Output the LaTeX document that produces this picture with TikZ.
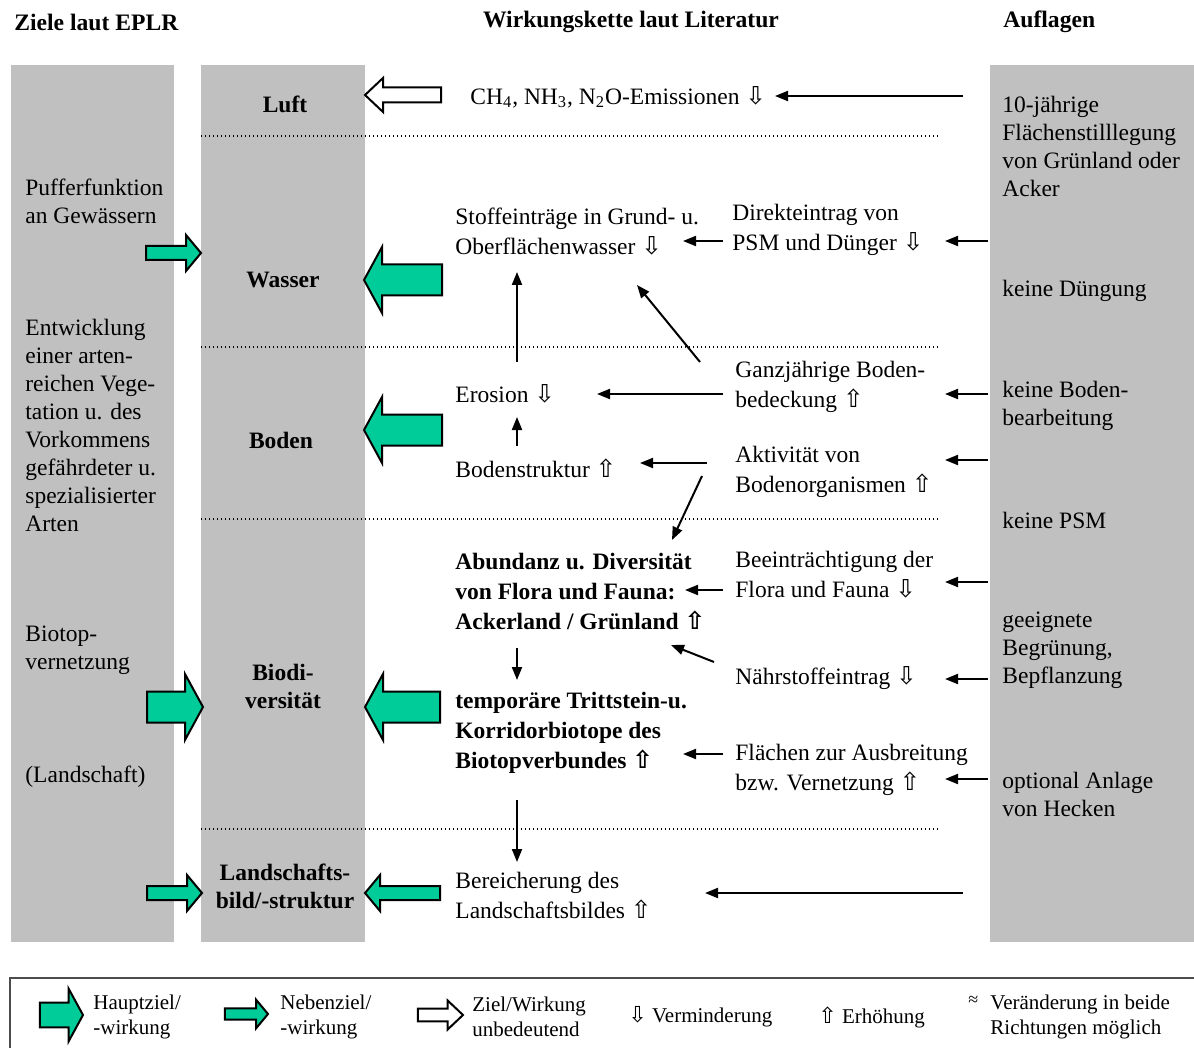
\documentclass[tikz,border=0pt]{standalone}
\usepackage{fontspec}
\setmainfont{Liberation Serif}
\newfontfamily\symfont[Scale=1.05]{DejaVu Sans}
\usetikzlibrary{arrows.meta,calc}
\definecolor{Grau}{HTML}{C0C0C0}
\definecolor{Gruen}{HTML}{00CC99}
\newcommand{\ab}{{\symfont ⇩}}
\newcommand{\auf}{{\symfont ⇧}}
\tikzset{
  >={Triangle[length=6.5pt,width=5pt]},
  saeule/.style={fill=Grau,draw=none,inner sep=0pt,outer sep=0pt,anchor=north west,minimum height=438.5pt},
  kopf/.style={font=\bfseries\fontsize{11.8}{14}\selectfont,inner sep=0pt},
  ziel/.style={anchor=west,inner sep=0pt,align=left,font=\fontsize{11.75}{14}\selectfont},
  feld/.style={inner sep=0pt,align=center,font=\bfseries\fontsize{11.75}{14}\selectfont},
  kette/.style={anchor=west,inner sep=0pt,align=left,font=\fontsize{11.75}{15}\selectfont},
  kettefett/.style={kette,font=\bfseries\fontsize{11.75}{15}\selectfont},
  legende/.style={anchor=west,inner sep=0pt,align=left,font=\fontsize{10.5}{12.5}\selectfont},
  wirkung/.style={->,line width=1pt},
  trennlinie/.style={line width=0.7pt,dash pattern=on 0.7pt off 1.3pt},
  gruenpfeil/.style={fill=Gruen,draw=black,line width=1pt,line join=miter},
  leerpfeil/.style={gruenpfeil,fill=white},
  pics/hauptpfeil/.style={code={\draw[gruenpfeil] (0,0) -- (-18,-33) -- (-18,-15.5) -- (-#1,-15.5) -- (-#1,15.5) -- (-18,15.5) -- (-18,33) -- cycle;}},
  pics/nebenpfeil/.style={code={\draw[gruenpfeil] (0,0) -- (-15,-18) -- (-15,-7) -- (-#1,-7) -- (-#1,7) -- (-15,7) -- (-15,18) -- cycle;}},
  pics/weisspfeil/.style={code={\draw[leerpfeil] (0,0) -- (-18,-17) -- (-18,-7.5) -- (-#1,-7.5) -- (-#1,7.5) -- (-18,7.5) -- (-18,17) -- cycle;}}
}
\begin{document}
\begin{tikzpicture}[x=0.5pt,y=-0.5pt]
  \useasboundingbox (0,0) rectangle (1194,1048);
  % Kopfzeile
  \node[kopf,anchor=west] (kZiele) at (14,22) {Ziele laut EPLR};
  \node[kopf] (kKette) at (631,22) {Wirkungskette laut Literatur};
  \node[kopf,anchor=west] (kAuflagen) at (1003,22) {Auflagen};
  % Saeulen
  \node[saeule,minimum width=81.5pt] (ziele) at (11,65) {};
  \node[saeule,minimum width=82pt] (schutzgut) at (201,65) {};
  \node[saeule,minimum width=102pt] (auflagen) at (990,65) {};
  \foreach \y in {136,347,519,829}
    \draw[trennlinie] (201,\y) -- (940,\y);
  % Ziele laut EPLR
  \node[ziel] (puffer) at (25,201) {Pufferfunktion\\an Gewässern};
  \node[ziel] (entw) at (25,425) {Entwicklung\\einer arten-\\reichen Vege-\\tation u. des\\Vorkommens\\gefährdeter u.\\spezialisierter\\Arten};
  \node[ziel] (biotop) at (25,650) {Biotop-\\vernetzung};
  \node[ziel] (landsch) at (25,777) {(Landschaft)};
  % Schutzgueter
  \node[feld] (luft) at (285,104) {Luft};
  \node[feld] (wasser) at (283,280) {Wasser};
  \node[feld] (boden) at (281,440) {Boden};
  \node[feld] (biodiv) at (283,686) {Biodi-\\versität};
  \node[feld] (lbild) at (285,886) {Landschafts-\\bild/-struktur};
  % Auflagen
  \node[ziel] (stilll) at (1002,146.5) {10-jährige\\Flächenstilllegung\\von Grünland oder\\Acker};
  \node[ziel] (duengung) at (1002,291) {keine Düngung};
  \node[ziel] (bearb) at (1002,405.5) {keine Boden-\\bearbeitung};
  \node[ziel] (psm) at (1002,520) {keine PSM};
  \node[ziel] (begr) at (1002,650) {geeignete\\Begrünung,\\Bepflanzung};
  \node[ziel] (hecken) at (1002,794) {optional Anlage\\von Hecken};
  % Wirkungskette
  \node[kette] (ch4) at (470,97) {CH\textsubscript{4}, NH\textsubscript{3}, N\textsubscript{2}O-Emissionen \ab};
  \node[kette] (stoff) at (455,232) {Stoffeinträge in Grund- u.\\Oberflächenwasser \ab};
  \node[kette] (direkt) at (732,230) {Direkteintrag von\\PSM und Dünger \ab};
  \node[kette] (erosion) at (455,394) {Erosion \ab};
  \node[kette] (ganz) at (735,386.5) {Ganzjährige Boden-\\bedeckung \auf};
  \node[kette] (struktur) at (455,468) {Bodenstruktur \auf};
  \node[kette] (aktiv) at (735,472) {Aktivität von\\Bodenorganismen \auf};
  \node[kettefett] (abund) at (455,591.5) {Abundanz u. Diversität\\von Flora und Fauna:\\Ackerland / Grünland \auf};
  \node[kette] (beein) at (735,574.5) {Beeinträchtigung der\\Flora und Fauna \ab};
  \node[kette] (naehr) at (735,678) {Nährstoffeintrag \ab};
  \node[kettefett] (temp) at (455,732.5) {temporäre Trittstein-u.\\Korridorbiotope des\\Biotopverbundes \auf};
  \node[kette] (flaechen) at (735,769.5) {Flächen zur Ausbreitung\\bzw. Vernetzung \auf};
  \node[kette] (bereich) at (455,895) {Bereicherung des\\Landschaftsbildes \auf};
  % Wirkungen
  \draw[wirkung] ($(auflagen.west |- ch4)+(-27,-1)$) -- ($(ch4.west)+(305,-1)$);
  \draw[wirkung] ($(auflagen.west |- direkt)+(-2,11)$) -- ($(direkt.west)+(213,11)$);
  \draw[wirkung] ($(direkt.west)+(-9,11)$) -- ($(stoff.west)+(228,9)$);
  \draw[wirkung] ($(erosion.west)+(62,-32)$) -- ($(stoff.west)+(62,40)$);
  \draw[wirkung] ($(ganz.west)+(-35,-24.5)$) -- ($(stoff.west)+(182,53)$);
  \draw[wirkung] ($(auflagen.west |- ganz)+(-2,7.5)$) -- ($(ganz.west)+(210,7.5)$);
  \draw[wirkung] ($(ganz.west)+(-12,7.5)$) -- ($(erosion.west)+(142,0)$);
  \draw[wirkung] ($(struktur.west)+(62,-22)$) -- ($(erosion.west)+(62,23)$);
  \draw[wirkung] ($(auflagen.west |- aktiv)+(-2,-12)$) -- ($(aktiv.west)+(210,-12)$);
  \draw[wirkung] ($(aktiv.west)+(-28,-9)$) -- ($(struktur.west)+(185,-5)$);
  \draw[wirkung] ($(aktiv.west)+(-33,4)$) -- ($(abund.west)+(217,-51.5)$);
  \draw[wirkung] ($(auflagen.west |- beein)+(-2,7.5)$) -- ($(beein.west)+(210,7.5)$);
  \draw[wirkung] ($(beein.west)+(-12,15.5)$) -- ($(abund.west)+(230,-1.5)$);
  \draw[wirkung] ($(abund.west)+(62,56.5)$) -- ($(temp.west)+(62,-52.5)$);
  \draw[wirkung] ($(naehr.west)+(-21,-16)$) -- ($(abund.west)+(216,53.5)$);
  \draw[wirkung] ($(auflagen.west |- naehr)+(-2,1)$) -- ($(naehr.west)+(210,1)$);
  \draw[wirkung] ($(flaechen.west)+(-12,-15.5)$) -- ($(temp.west)+(228,21.5)$);
  \draw[wirkung] ($(auflagen.west |- flaechen)+(-2,9.5)$) -- ($(flaechen.west)+(210,9.5)$);
  \draw[wirkung] ($(temp.west)+(62,67.5)$) -- ($(bereich.west)+(62,-33)$);
  \draw[wirkung] ($(auflagen.west |- bereich)+(-27,-2)$) -- ($(bereich.west)+(250,-2)$);
  % Blockpfeile
  \pic at (201,253) {nebenpfeil=55};
  \pic at (203,707) {hauptpfeil=56};
  \pic at (202,893) {nebenpfeil=55};
  \pic[rotate=180] at (365,95) {weisspfeil=76};
  \pic[rotate=180] at (364,280) {hauptpfeil=78};
  \pic[rotate=180] at (364,430) {hauptpfeil=78};
  \pic[rotate=180] at (365,707) {hauptpfeil=75};
  \pic[rotate=180] at (365,893) {nebenpfeil=75};
  % Legende
  \draw[line width=0.6pt,draw=black!70] (10,1048) -- (10,978) -- (1194,978);
  \pic[scale=0.8] at (83,1015) {hauptpfeil=54};
  \pic[scale=0.8] at (268,1014) {nebenpfeil=54};
  \pic[scale=0.85] at (463,1015) {weisspfeil=53};
  \node[legende] (lHaupt) at (93,1017) {Hauptziel/\\-wirkung};
  \node[legende] (lNeben) at (280,1017) {Nebenziel/\\-wirkung};
  \node[legende] (lLeer) at (472,1017) {Ziel/Wirkung\\unbedeutend};
  \node[legende] (lAb) at (628,1017) {\ab{} Verminderung};
  \node[legende] (lAuf) at (818,1017) {\auf{} Erhöhung};
  \node[legende,font=\fontsize{9}{10}\selectfont] (lEtwa) at (968,1001) {≈};
  \node[legende] (lBeide) at (990,1017) {Veränderung in beide\\Richtungen möglich};
\end{tikzpicture}
\end{document}
